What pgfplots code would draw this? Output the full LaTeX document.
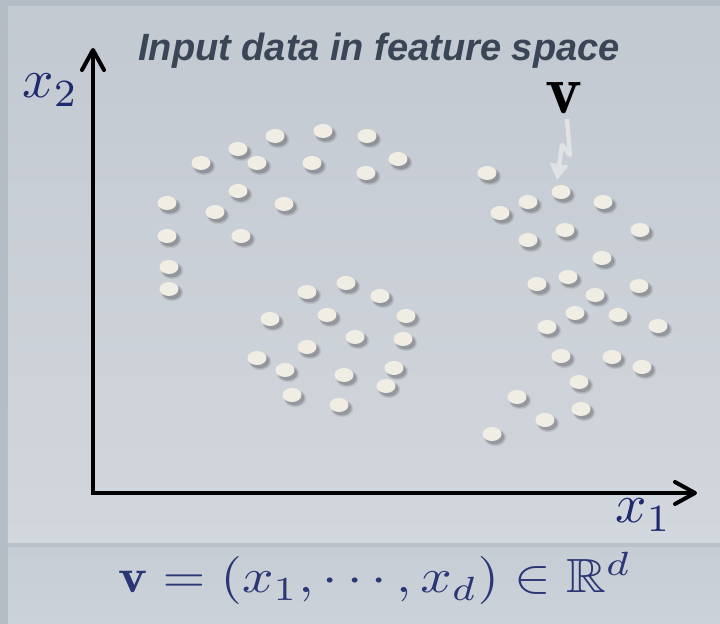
\documentclass[border=0pt]{standalone}
\usepackage{amssymb}
\usepackage{fontspec}
\usepackage{pgfplots}
\pgfplotsset{compat=1.18}
\usetikzlibrary{arrows.meta}
\newfontfamily\titlefont{Liberation Sans}

\definecolor{frame}{HTML}{B4BCC6}
\definecolor{paneltop}{HTML}{C3C9D1}
\definecolor{panelbot}{HTML}{D2D7DD}
\definecolor{bandtop}{HTML}{C7CDD5}
\definecolor{bandbot}{HTML}{CCD2D9}
\definecolor{sep}{HTML}{BAC1CB}
\definecolor{titlecol}{HTML}{3A4655}
\definecolor{mathcol}{HTML}{1F2A6E}
\definecolor{formcol}{HTML}{2B3675}
\definecolor{dotcol}{HTML}{F0EDE4}
\definecolor{pointer}{HTML}{E0E2E3}

% dot with a soft shadow down and to the right
\pgfdeclareplotmark{blob}{%
  \pgfsetfillcolor{black}%
  \pgfsetfillopacity{0.08}%
  \pgfpathellipse{\pgfpoint{1.6pt}{-1.8pt}}{\pgfpoint{5.6pt}{0pt}}{\pgfpoint{0pt}{4.3pt}}\pgfusepath{fill}%
  \pgfpathellipse{\pgfpoint{1.5pt}{-1.7pt}}{\pgfpoint{5.1pt}{0pt}}{\pgfpoint{0pt}{3.9pt}}\pgfusepath{fill}%
  \pgfsetfillopacity{0.14}%
  \pgfpathellipse{\pgfpoint{1.4pt}{-1.6pt}}{\pgfpoint{4.7pt}{0pt}}{\pgfpoint{0pt}{3.5pt}}\pgfusepath{fill}%
  \pgfsetfillopacity{1}%
  \pgfsetfillcolor{dotcol}%
  \pgfpathellipse{\pgfpointorigin}{\pgfpoint{4.75pt}{0pt}}{\pgfpoint{0pt}{3.5pt}}\pgfusepath{fill}%
}

\begin{document}
\begin{tikzpicture}
\begin{axis}[
  set layers,
  scale only axis,
  width=302pt, height=222.5pt,
  xmin=93, xmax=697, ymin=131, ymax=576,
  axis lines*=left,
  xtick=\empty, ytick=\empty,
  clip=false,
  axis line style={line width=2pt, black},
  x axis line style={-{Straight Barb[length=10pt,width=11pt,round]}},
  y axis line style={-{Straight Barb[length=10pt,width=11pt,round]}},
]
\begin{pgfonlayer}{axis background}
  \fill[frame] (axis cs:0,0) rectangle (axis cs:720,624);
  \shade[top color=paneltop, bottom color=panelbot] (axis cs:8,81) rectangle (axis cs:720,617);
  \fill[sep] (axis cs:8,76) rectangle (axis cs:720,81);
  \shade[top color=bandtop, bottom color=bandbot] (axis cs:8,0) rectangle (axis cs:720,76);
\end{pgfonlayer}

% cluster 1: arc at top left
\addplot[only marks, mark=blob] coordinates {
  (201,461) (238,475) (257,461) (275,488) (323,493) (367,488) (398,465)
  (366,451) (312,461) (238,433) (215,412) (284,420) (167,421) (167,388)
  (241,388) (169,357) (169,335)
};
% cluster 2: ring in the middle
\addplot[only marks, mark=blob] coordinates {
  (307,332) (346,341) (380,328) (406,308) (270,305) (327,309) (355,287)
  (403,285) (307,277) (257,266) (285,254) (344,249) (394,256) (386,238)
  (292,229) (339,219)
};
% cluster 3: right
\addplot[only marks, mark=blob] coordinates {
  (487,451) (528,422) (500,411) (561,432) (603,422) (528,384) (565,394)
  (640,394) (602,366) (537,340) (568,347) (595,329) (639,338) (575,311)
  (618,309) (547,297) (658,298) (561,268) (612,267) (642,257) (579,242)
  (517,227) (581,215) (545,204) (492,190)
};

\fill[black] (axis cs:93,131) ++(-1pt,-1pt) rectangle ++(2pt,2pt);

\node[anchor=base, inner sep=0pt, text=titlecol]
  at (axis cs:379,563) {\titlefont\fontsize{19}{22}\selectfont\bfseries\itshape Input data in feature space};
\node[anchor=base west, inner sep=0pt, text=mathcol]
  at (axis cs:22,526) {\scalebox{2.75}{$x_2$}};
\node[anchor=base west, inner sep=0pt, text=mathcol]
  at (axis cs:615,101) {\scalebox{2.75}{$x_1$}};
\node[anchor=base, inner sep=0pt, text=black]
  at (axis cs:564,510) {\scalebox{3.5}{$\mathbf{v}$}};
\draw[pointer, line width=2.2pt, line join=round,
      -{Triangle[length=8pt,width=9pt]}]
  (axis cs:567,505) -- (axis cs:570,469) -- (axis cs:562,479) -- (axis cs:557,444);
\node[anchor=base, inner sep=0pt, text=formcol]
  at (axis cs:375,31) {\scalebox{2.75}[2.4]{$\mathbf{v} = (x_1,\cdots,x_d) \in \mathbb{R}^d$}};
\end{axis}
\end{tikzpicture}
\end{document}
